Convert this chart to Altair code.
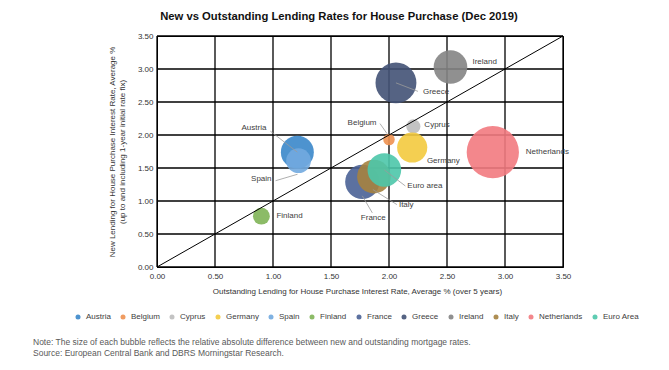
import altair as alt
import pandas as pd

# ---- data ----
countries = ["Austria", "Belgium", "Cyprus", "Germany", "Spain", "Finland",
             "France", "Greece", "Ireland", "Italy", "Netherlands", "Euro Area"]
outstanding_rate = [1.21, 2.00, 2.21, 2.20, 1.22, 0.90, 1.77, 2.06, 2.53, 1.87, 2.895, 1.96]
new_rate = [1.74, 1.93, 2.13, 1.81, 1.61, 0.77, 1.29, 2.79, 3.03, 1.37, 1.74, 1.47]
bubble_size = [0.46, 0.056, 0.085, 0.385, 0.26, 0.12, 0.50, 0.71, 0.48, 0.48, 1.16, 0.48]
point_labels = ["Austria", "Belgium", "Cyprus", "Germany", "Spain", "Finland",
                "France", "Greece", "Ireland", "Italy", "Netherlands", "Euro area"]
colors = ["#3A87CA", "#EE9150", "#BDBDBD", "#F3CA3E", "#72AADF", "#80B457",
          "#4A6296", "#435275", "#848484", "#A5823F", "#F27A80", "#4CC7AA"]
ticks = [0, 0.5, 1.0, 1.5, 2.0, 2.5, 3.0, 3.5]

TITLE = "New vs Outstanding Lending Rates for House Purchase (Dec 2019)"
X_TITLE = "Outstanding Lending for House Purchase Interest Rate, Average  % (over 5 years)"
Y_TITLE = ["New Lending for House Purchase Interest Rate, Average  %",
           "(up to and including 1-year initial rate fix)"]
NOTE = ("Note: The size of each bubble reflects the relative absolute difference between new and outstanding mortgage rates.\n"
        "Source: European Central Bank and DBRS Morningstar Research.")

# ---- layout / label placement (pixels) ----
W, H = 406, 231
PXX, PXY = W / 3.5, H / 3.5
FONT = "Liberation Sans"
GRID = "#000000"
# text offset (dx, dy), align, leader start, leader end
label_place = {
    "Austria": ((-31, -24), "right", (0, 0), (-27, -21)),
    "Belgium": ((-12.5, -17), "right", (-2, -6), (-9, -16)),
    "Cyprus": ((11, -1.7), "left", None, None),
    "Germany": ((14.7, 13), "left", None, None),
    "Spain": ((-27, 18.5), "right", (-1, 13.5), (-23, 20)),
    "Finland": ((15, 0), "left", None, None),
    "France": ((11, 36), "center", (0, 14), (10, 31)),
    "Greece": ((27, 8.7), "left", (0, 0), (22, 8.5)),
    "Ireland": ((22, -4.7), "left", None, None),
    "Italy": ((25, 28.7), "left", (-1, 13), (23, 28)),
    "Netherlands": ((33, 0), "left", None, None),
    "Euro Area": ((23, 16), "left", (0, 0), (21, 16)),
}

df = pd.DataFrame({
    "country": countries,
    "outstanding": outstanding_rate,
    "new": new_rate,
    "size": bubble_size,
    "idx": list(range(len(countries))),
})

lab_rows, lead_rows = [], []
for c, lbl, x, y in zip(countries, point_labels, outstanding_rate, new_rate):
    (dx, dy), al, s, e = label_place[c]
    lab_rows.append({"label": lbl, "lx": x + dx / PXX, "ly": y - dy / PXY, "align": al})
    if s is not None:
        lead_rows.append({"x1": x + s[0] / PXX, "y1": y - s[1] / PXY,
                          "x2": x + e[0] / PXX, "y2": y - e[1] / PXY})
lab = pd.DataFrame(lab_rows)
lead = pd.DataFrame(lead_rows)
tick_df = pd.DataFrame({"t": ticks})

xs = alt.Scale(domain=[0, 3.5], nice=False, zero=True)
ys = alt.Scale(domain=[0, 3.5], nice=False, zero=True)

common_axis = dict(format=".2f", grid=False, ticks=False, labelFlush=False,
                   domainColor=GRID, domainWidth=1,
                   labelFontSize=8, labelFont=FONT, labelColor="#333333",
                   titleFontSize=8, titleFont=FONT, titleColor="#333333",
                   titleFontWeight="normal")
x_axis = alt.Axis(values=ticks, title=X_TITLE, labelPadding=5,
                  titleX=200, titleY=24, titleBaseline="middle", titleAlign="center",
                  **common_axis)
y_axis = alt.Axis(values=ticks, title=Y_TITLE, labelPadding=4,
                  titleAngle=270, titleX=-49, titleY=H / 2, titleBaseline="top",
                  titleAlign="center", titleLineHeight=10, **common_axis)

vgrid = alt.Chart(tick_df).mark_rule(color=GRID, strokeWidth=1.3).encode(
    x=alt.X("t:Q", scale=xs, axis=x_axis, title=X_TITLE),
    y=alt.value(0), y2=alt.value(H))
hgrid = alt.Chart(tick_df).mark_rule(color=GRID, strokeWidth=1.3).encode(
    y=alt.Y("t:Q", scale=ys, axis=y_axis, title=Y_TITLE),
    x=alt.value(0), x2=alt.value(W))

bubbles = alt.Chart(df).mark_circle(opacity=0.9).encode(
    x=alt.X("outstanding:Q", scale=xs, axis=x_axis, title=X_TITLE),
    y=alt.Y("new:Q", scale=ys, axis=y_axis, title=Y_TITLE),
    size=alt.Size("size:Q", scale=alt.Scale(domain=[0, 1.16], range=[0, 2734]), legend=None),
    color=alt.Color("country:N", scale=alt.Scale(domain=countries, range=colors),
                    legend=alt.Legend(title=None, orient="none", direction="horizontal",
                                      columns=12, legendX=-83, legendY=277,
                                      symbolType="circle", symbolSize=25, symbolOpacity=0.9,
                                      labelFontSize=8, labelFont=FONT, labelColor="#404040",
                                      labelOffset=4, columnPadding=8)),
    order=alt.Order("idx:Q"),
)

diag = alt.Chart(pd.DataFrame({"a": [0.0], "b": [3.5]})).mark_rule(color="black", strokeWidth=1).encode(
    x=alt.X("a:Q", scale=xs, axis=x_axis, title=X_TITLE),
    y=alt.Y("a:Q", scale=ys, axis=y_axis, title=Y_TITLE),
    x2="b:Q", y2="b:Q")

leaders = alt.Chart(lead).mark_rule(color="#9a9a9a", strokeWidth=0.8).encode(
    x=alt.X("x1:Q", scale=xs, axis=x_axis, title=X_TITLE),
    y=alt.Y("y1:Q", scale=ys, axis=y_axis, title=Y_TITLE),
    x2="x2:Q", y2="y2:Q")

texts = []
for al in ["left", "right", "center"]:
    texts.append(
        alt.Chart(lab[lab["align"] == al]).mark_text(
            align=al, baseline="middle", fontSize=8, font=FONT, color="#404040").encode(
            x=alt.X("lx:Q", scale=xs, axis=x_axis, title=X_TITLE),
            y=alt.Y("ly:Q", scale=ys, axis=y_axis, title=Y_TITLE),
            text="label:N"))

note = alt.Chart(pd.DataFrame({"t": [NOTE]})).mark_text(
    align="left", baseline="top", fontSize=8.5, font=FONT, color="#595959",
    lineBreak="\n", lineHeight=11).encode(
    x=alt.value(-124), y=alt.value(301.5), text="t:N")

chart = alt.layer(vgrid, hgrid, bubbles, diag, leaders, *texts, note).properties(
    width=W, height=H,
    title=alt.TitleParams(TITLE, fontSize=11.25, fontWeight="bold", font=FONT, color="#111111",
                          anchor="middle", frame="group", dx=-21, offset=10),
    padding={"left": 149, "top": 28, "right": 98, "bottom": 95},
    autosize=alt.AutoSizeParams(type="none"),
).configure_view(stroke=GRID, strokeWidth=1)

chart.save("out.html", embed_options={"renderer": "svg", "actions": False})
